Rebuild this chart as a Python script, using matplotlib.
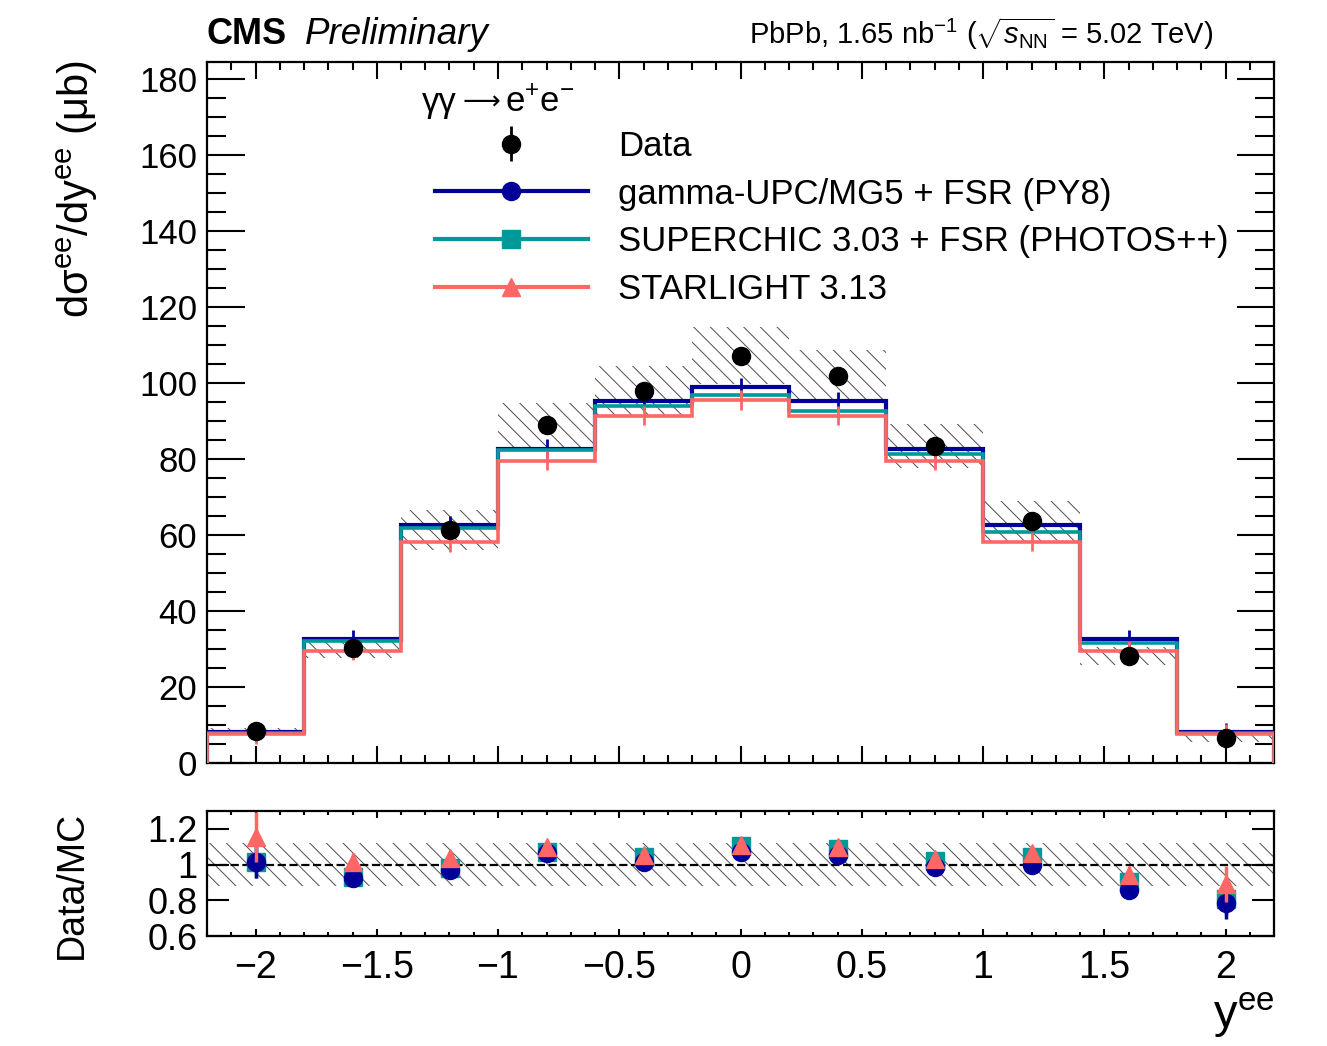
# CMS gamma gamma -> e+e- rapidity distribution with data/MC ratio panel

import numpy as np
import matplotlib
matplotlib.use('Agg')
import matplotlib.pyplot as plt
from matplotlib.lines import Line2D
from matplotlib.ticker import MultipleLocator, FuncFormatter

plt.rcParams['font.family'] = ['Liberation Sans', 'DejaVu Sans']
plt.rcParams['mathtext.fontset'] = 'custom'
plt.rcParams['mathtext.rm'] = 'Liberation Sans'
plt.rcParams['mathtext.it'] = 'Liberation Sans:italic'
plt.rcParams['mathtext.bf'] = 'Liberation Sans:bold'
plt.rcParams['hatch.linewidth'] = 0.7

# binning in y^ee
bin_edges = [-2.2, -1.8, -1.4, -1.0, -0.6, -0.2, 0.2, 0.6, 1.0, 1.4, 1.8, 2.2]
bin_centers = [-2.0, -1.6, -1.2, -0.8, -0.4, 0.0, 0.4, 0.8, 1.2, 1.6, 2.0]

# cross sections (mub)
data = [8.5, 30.3, 61.4, 88.9, 98.0, 107.3, 101.9, 83.5, 63.6, 28.2, 6.6]
data_stat = [0.6, 1.0, 1.4, 1.7, 1.8, 1.9, 1.9, 1.7, 1.5, 1.0, 0.6]
data_syst = [0.8, 2.6, 5.2, 6.0, 6.6, 7.4, 6.9, 5.7, 5.3, 2.4, 1.0]

gupc = [8.2, 32.7, 62.6, 82.8, 95.4, 99.1, 95.4, 82.8, 62.6, 32.7, 8.2]
gupc_err = [2.4, 2.4, 2.4, 2.4, 2.4, 2.4, 2.4, 2.4, 2.4, 2.4, 2.4]
superchic = [7.9, 32.0, 61.8, 82.5, 94.0, 96.9, 92.8, 81.4, 60.7, 31.6, 7.9]
starlight = [7.6, 29.6, 58.1, 79.6, 91.4, 95.6, 91.5, 79.6, 58.3, 29.6, 7.6]
starlight_err = [2.6, 2.6, 2.5, 2.5, 2.5, 2.6, 2.6, 2.5, 2.5, 2.6, 2.6]

# data / MC ratios
ratio_gupc = [1.016, 0.923, 0.970, 1.063, 1.016, 1.072, 1.054, 0.988, 0.998, 0.858, 0.783]
ratio_gupc_err = [0.09, 0.04, 0.03, 0.03, 0.03, 0.03, 0.03, 0.03, 0.03, 0.04, 0.09]
ratio_superchic = [1.013, 0.930, 0.980, 1.070, 1.040, 1.106, 1.090, 1.020, 1.040, 0.900, 0.810]
ratio_superchic_err = [0.09, 0.04, 0.03, 0.03, 0.03, 0.03, 0.03, 0.03, 0.03, 0.04, 0.09]
ratio_starlight = [1.156, 1.016, 1.035, 1.100, 1.054, 1.110, 1.100, 1.030, 1.063, 0.942, 0.890]
ratio_starlight_err = [0.14, 0.05, 0.04, 0.03, 0.03, 0.03, 0.03, 0.03, 0.04, 0.05, 0.10]
ratio_band = [0.88, 1.12]

labels = ['Data', 'gamma-UPC/MG5 + FSR (PY8)', 'SUPERCHIC 3.03 + FSR (PHOTOS++)', 'STARLIGHT 3.13']
c_blue = '#000099'
c_teal = '#009999'
c_red = '#ff6666'

W, H = 1327, 1046
fig = plt.figure(figsize=(W / 100, H / 100), dpi=100)


def px(x, y):
	return x / W, 1 - y / H


ax = fig.add_axes([207 / W, 1 - 763 / H, (1274 - 207) / W, (763 - 62) / H])
ax2 = fig.add_axes([207 / W, 1 - 936 / H, (1274 - 207) / W, (936 - 811) / H])

# data systematic band
d = np.array(data)
s = np.array(data_syst)
ax.bar(bin_centers, 2 * s, bottom=d - s, width=0.4, facecolor='none', edgecolor='0.3',
	   linewidth=0, hatch='\\\\', zorder=1)

ax.stairs(gupc, bin_edges, baseline=0, color=c_blue, lw=3.0, zorder=2)
ax.errorbar(bin_centers, gupc, yerr=gupc_err, fmt='none', ecolor=c_blue, elinewidth=2, zorder=2)
ax.stairs(superchic, bin_edges, baseline=0, color=c_teal, lw=2.6, zorder=3)
ax.stairs(starlight, bin_edges, baseline=0, color=c_red, lw=2.6, zorder=4)
ax.errorbar(bin_centers, starlight, yerr=starlight_err, fmt='none', ecolor=c_red, elinewidth=2, zorder=4)
h_data = ax.errorbar(bin_centers, data, yerr=data_stat, fmt='o', color='black', ms=13,
					 elinewidth=2, capsize=0, zorder=6)

ax.set_xlim(-2.2, 2.2)
ax.set_ylim(0, 184.6)

fmt = FuncFormatter(lambda v, p: '{:g}'.format(round(v, 3)).replace('-', '\u2212'))

for a in (ax, ax2):
	a.xaxis.set_major_locator(MultipleLocator(0.5))
	a.xaxis.set_minor_locator(MultipleLocator(0.1))
	a.tick_params(which='both', direction='in', top=True, right=True)
	for sp in a.spines.values():
		sp.set_linewidth(1.6)

ax.yaxis.set_major_locator(MultipleLocator(20))
ax.yaxis.set_minor_locator(MultipleLocator(5))
ax.yaxis.set_major_formatter(fmt)
ax.tick_params(axis='y', which='major', length=27, width=1.5, labelsize=25, pad=7)
ax.tick_params(axis='y', which='minor', length=14, width=1.5)
ax.tick_params(axis='x', which='major', length=12, width=1.5, labelbottom=False)
ax.tick_params(axis='x', which='minor', length=6, width=1.5)

# legend
h_gupc = Line2D([], [], color=c_blue, lw=3, marker='o', ms=13)
h_sc = Line2D([], [], color=c_teal, lw=3, marker='s', ms=13)
h_sl = Line2D([], [], color=c_red, lw=3, marker='^', ms=13)
ax.legend([h_data, h_gupc, h_sc, h_sl], labels, loc='upper left',
		  bbox_to_anchor=px(435, 130), bbox_transform=fig.transFigure, frameon=False,
		  fontsize=25, handlelength=4.4, handletextpad=0.86, labelspacing=0.42,
		  borderpad=0, borderaxespad=0)
fig.text(*px(422, 112), '\u03b3\u03b3', fontsize=25, va='baseline')
fig.text(*px(463, 110), '\u27f6', fontsize=19, va='baseline', family='DejaVu Sans')
fig.text(*px(505, 112), 'e$^{+}$e$^{-}$', fontsize=25, va='baseline')

# ratio panel
ax2.fill_between([-2.2, 2.2], ratio_band[0], ratio_band[1], facecolor='none', edgecolor='0.3',
				 linewidth=0, hatch='\\\\', zorder=1)
ax2.axhline(1, color='black', ls='--', lw=1.6, zorder=2)
ax2.errorbar(bin_centers, ratio_superchic, yerr=ratio_superchic_err, fmt='s', color=c_teal,
			 ms=13, elinewidth=2.5, zorder=3)
ax2.errorbar(bin_centers, ratio_gupc, yerr=ratio_gupc_err, fmt='o', color=c_blue,
			 ms=13, elinewidth=2.5, zorder=4)
ax2.errorbar(bin_centers, ratio_starlight, yerr=ratio_starlight_err, fmt='^', color=c_red,
			 ms=13, elinewidth=2.5, zorder=5)
ax2.set_xlim(-2.2, 2.2)
ax2.set_ylim(0.6, 1.3)
ax2.yaxis.set_major_locator(MultipleLocator(0.2))
ax2.yaxis.set_major_formatter(fmt)
ax2.xaxis.set_major_formatter(fmt)
ax2.tick_params(axis='y', which='major', length=16, width=1.5, labelsize=26, pad=7)
ax2.tick_params(axis='y', which='minor', left=False, right=False)
ax2.tick_params(axis='x', which='major', length=5, width=1.5, labelsize=27, pad=10)
ax2.tick_params(axis='x', which='minor', length=3, width=1.5)

# titles
fig.text(*px(207, 44), 'CMS', fontsize=26, fontweight='bold', va='baseline')
fig.text(*px(305, 44), 'Preliminary', fontsize=26.5, style='italic', va='baseline')
fig.text(*px(1213, 44), 'PbPb, 1.65 nb$^{-1}$ ($\\sqrt{s_{\\mathrm{NN}}}$ = 5.02 TeV)',
		 fontsize=21, ha='right', va='baseline')
fig.text(*px(77, 60), 'd\u03c3$^{\\mathrm{ee}}$/dy$^{\\mathrm{ee}}$ (\u03bcb)', fontsize=30,
		 rotation=90, ha='center', va='top')
fig.text(*px(72, 811), 'Data/MC', fontsize=27, rotation=90, ha='center', va='top')
fig.text(*px(1274, 1040), 'y$^{\\mathrm{ee}}$', fontsize=34, ha='right', va='bottom')

fig.savefig('out.png', dpi=100)
